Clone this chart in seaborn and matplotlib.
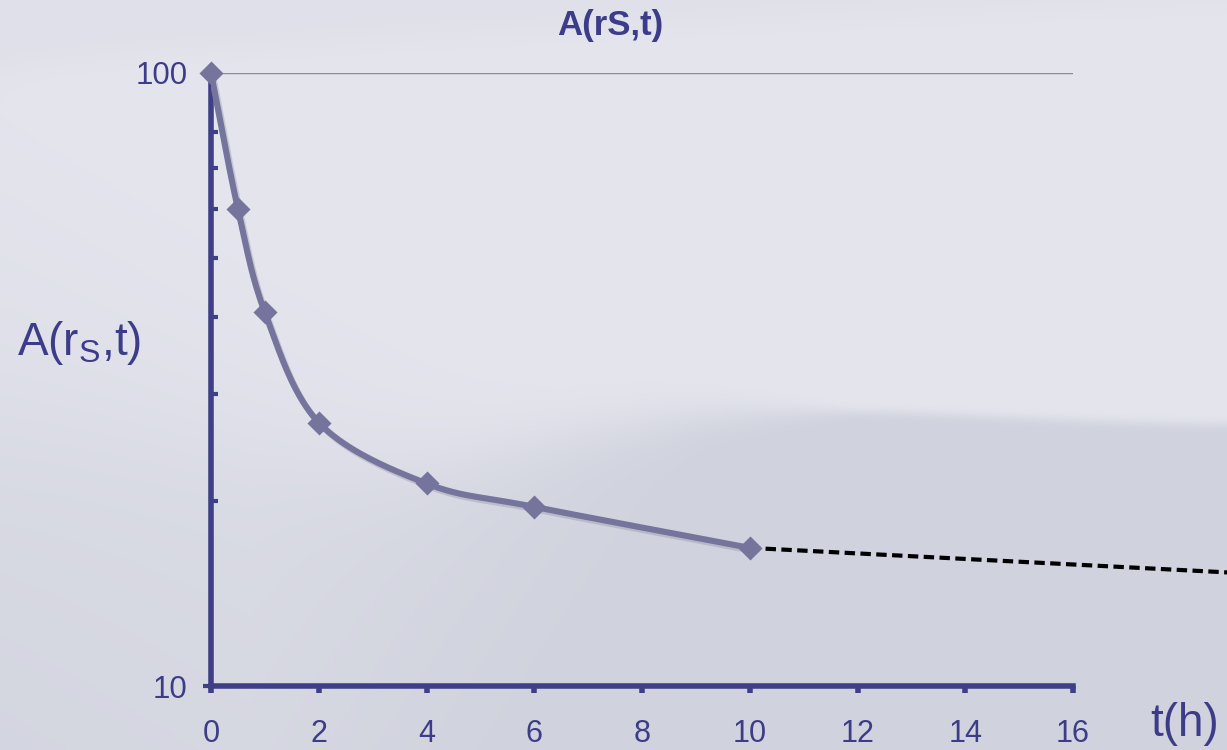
import numpy as np
import pandas as pd
import matplotlib
matplotlib.use("Agg")
import matplotlib.pyplot as plt
import seaborn as sns
from matplotlib.ticker import FixedLocator, NullFormatter, FixedFormatter
import matplotlib.patheffects as pe

# ---------------- data ----------------
t_hours = [0, 0.5, 1, 2, 4, 6, 10]
activity = [100, 60, 40.7, 26.9, 21.4, 19.6, 16.8]
trend_t = [10, 19]
trend_A = [16.8, 15.3]
x_ticks = [0, 2, 4, 6, 8, 10, 12, 14, 16]
y_major = [10, 100]
y_major_labels = ["10", "100"]
y_minor = [20, 30, 40, 50, 60, 70, 80]
title_text = "A(rS,t)"
x_label = "t(h)"
y_label = r"A(r$_\mathregular{S}$,t)"

# ---------------- style ----------------
sns.set_theme(style="white")
plt.rcParams["font.family"] = ["Liberation Sans", "DejaVu Sans"]
plt.rcParams["mathtext.fontset"] = "custom"
plt.rcParams["mathtext.rm"] = "Liberation Sans"

AXIS_C = "#3f3f88"
TEXT_C = "#3c3c88"
LINE_C = "#74749c"

W, H = 1227, 750
fig = plt.figure(figsize=(W / 100, H / 100), dpi=100)

# background texture (pure decoration)
bg = fig.add_axes([0, 0, 1, 1], zorder=0)
bg.axis("off")
yy, xx = np.mgrid[0:H, 0:W].astype(float)
light = np.array([228, 229, 237]) / 255.0
dark = np.array([208, 210, 221]) / 255.0
boundary = 425 - 14 * np.exp(-((xx - 820) / 260) ** 2) + 45 * np.exp(-((xx - 380) / 180) ** 2)
soft = 3 + 45 * np.clip((850 - xx) / 850, 0, 1)
mix = 1 / (1 + np.exp(-(yy - boundary) / soft))
mix = mix * np.clip(0.35 + (xx - 250) / 700, 0.35, 1.0)
# gentle diagonal shading toward lower-left
diag = np.clip(((yy / H) - (xx / W)) * 0.9 - 0.05, 0, 1) * 0.55
top_wave = 1 / (1 + np.exp((yy - (70 - 70 * (xx / W) ** 0.7)) / 10)) * 0.25
m = np.clip(mix + diag + top_wave, 0, 1)
img = light[None, None, :] * (1 - m[..., None]) + dark[None, None, :] * m[..., None]
bg.imshow(img, aspect="auto", extent=[0, 1, 0, 1], origin="upper")
bg.set_xlim(0, 1)
bg.set_ylim(0, 1)

# main axes
ax = fig.add_axes([211 / W, 64 / H, 862 / W, 613 / H], zorder=2)
ax.patch.set_alpha(0)
ax.set_yscale("log")
ax.set_xlim(0, 16)
ax.set_ylim(10, 100)

# gridline at top
ax.axhline(100, color="#8a8aa4", lw=1.0, zorder=1)

# smoothed curve through the data (rendered like the original's smooth line)
def catmull(P, n=40):
    P = np.vstack([2 * P[0] - P[1], P, 2 * P[-1] - P[-2]])
    out = []
    s = np.linspace(0, 1, n, endpoint=False)[:, None]
    for i in range(1, len(P) - 2):
        p0, p1, p2, p3 = P[i - 1], P[i], P[i + 1], P[i + 2]
        out.append(0.5 * ((2 * p1) + (-p0 + p2) * s + (2 * p0 - 5 * p1 + 4 * p2 - p3) * s ** 2
                          + (-p0 + 3 * p1 - 3 * p2 + p3) * s ** 3))
    out.append(P[-2][None])
    return np.vstack(out)

disp = ax.transData.transform(np.column_stack([t_hours, activity]))
curve = ax.transData.inverted().transform(catmull(disp))
shadow = [pe.SimpleLineShadow(offset=(1.5, -2), shadow_color="#8c8ca0", alpha=0.35), pe.Normal()]
ax.plot(curve[:, 0], curve[:, 1], color=LINE_C, lw=4.4, solid_capstyle="round", zorder=3,
        path_effects=shadow)

df = pd.DataFrame({"t": t_hours, "A": activity})
sns.scatterplot(data=df, x="t", y="A", marker="D", s=150, color=LINE_C, edgecolor=LINE_C,
                linewidth=0, ax=ax, zorder=4, clip_on=False)

# dashed extrapolation
dft = pd.DataFrame({"t": trend_t, "A": trend_A})
sns.lineplot(data=dft, x="t", y="A", color="black", lw=3.0, ax=ax, zorder=3)
for ln in ax.lines[-1:]:
    ln.set_dashes([2.5, 1.3])
    ln.set_clip_on(False)

# spines
for s in ["top", "right"]:
    ax.spines[s].set_visible(False)
for s in ["left", "bottom"]:
    ax.spines[s].set_color(AXIS_C)
    ax.spines[s].set_linewidth(4)
    ax.spines[s].set_zorder(2.5)

ax.xaxis.set_major_locator(FixedLocator(x_ticks))
ax.set_xticklabels([str(v) for v in x_ticks])
ax.yaxis.set_major_locator(FixedLocator(y_major))
ax.yaxis.set_major_formatter(FixedFormatter(y_major_labels))
ax.yaxis.set_minor_locator(FixedLocator(y_minor))
ax.yaxis.set_minor_formatter(NullFormatter())
ax.xaxis.set_minor_locator(FixedLocator([]))

ax.tick_params(axis="x", which="major", bottom=True, direction="out", length=5, width=4,
               color=AXIS_C, labelsize=22, labelcolor=TEXT_C, pad=19)
ax.tick_params(axis="y", which="major", left=True, direction="out", length=6, width=3,
               color=AXIS_C, labelsize=22.5, labelcolor=TEXT_C, pad=11)
ax.tick_params(axis="y", which="minor", left=True, direction="in", length=5, width=3,
               color=AXIS_C)

ax.set_xlabel(x_label, fontsize=33, color=TEXT_C)
ax.xaxis.set_label_coords(1.13, -0.062)
ax.xaxis.label.set_va("center")
ax.set_ylabel(y_label, fontsize=33, color=TEXT_C, rotation=0)
ax.yaxis.set_label_coords(-0.153, 0.56)
ax.yaxis.label.set_va("center")
ax.yaxis.label.set_ha("center")

fig.text(0.497, 1 - 26 / H, title_text, fontsize=25, fontweight="bold", color=TEXT_C,
         ha="center", va="center")

fig.savefig("out.png", dpi=100)
